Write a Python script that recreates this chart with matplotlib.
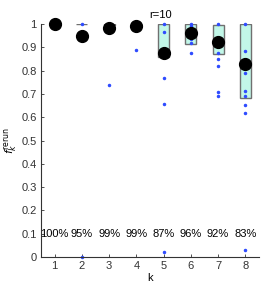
import numpy as np
import matplotlib.pyplot as plt

# ----------------------------
# Data
# ----------------------------
ks = [1, 2, 3, 4, 5, 6, 7, 8]
means = [1.0, 0.95, 0.985, 0.99, 0.874, 0.96, 0.924, 0.83]
q1 = [1.0, 1.0, 0.995, 1.0, 0.857, 0.913, 0.87, 0.681]
q3 = [1.0, 1.0, 1.0, 1.0, 1.0, 1.0, 0.996, 1.0]
pct_labels = ["100%", "95%", "99%", "99%", "87%", "96%", "92%", "83%"]

points = {
    1: [1.0],
    2: [1.0, 0.0],
    3: [1.0, 0.74],
    4: [1.0, 0.89],
    5: [1.0, 0.964, 0.77, 0.657, 0.02],
    6: [1.0, 0.99, 0.934, 0.92, 0.874],
    7: [1.0, 0.874, 0.85, 0.818, 0.71, 0.692],
    8: [1.0, 0.884, 0.788, 0.714, 0.692, 0.651, 0.617, 0.03],
}

# ----------------------------
# Figure
# ----------------------------
plt.rcParams.update({"font.size": 8, "font.family": "Liberation Sans"})

fig = plt.figure(figsize=(2.77, 2.86), dpi=100)
ax = fig.add_axes([0.148, 0.101, 0.787, 0.815])

ax.bar(ks, np.array(q3) - np.array(q1), bottom=q1, width=0.4,
       color="#c2f7e8", edgecolor="#707070", linewidth=1.0, zorder=1)

for k in ks:
    ax.plot([k] * len(points[k]), points[k], ".", color="#2f4cff",
            markersize=3, zorder=2, clip_on=False)

ax.plot(ks, means, "o", color="black", markersize=8.5, zorder=3,
        clip_on=False)

for k, lab in zip(ks, pct_labels):
    ax.text(k, 0.1, lab, ha="center", va="center", fontsize=8)

ax.set_xlim(0.5, 8.5)
ax.set_ylim(0, 1)
ax.set_xticks(ks)
ax.set_yticks(np.arange(0, 1.01, 0.1))
ax.set_yticklabels(["0", "0.1", "0.2", "0.3", "0.4", "0.5",
                    "0.6", "0.7", "0.8", "0.9", "1"])
ax.tick_params(direction="in", length=2, width=0.6, pad=3,
               colors="#333333")

for s in ["top", "right"]:
    ax.spines[s].set_visible(False)
ax.spines["left"].set_linewidth(0.8)
ax.spines["bottom"].set_linewidth(0.8)
ax.spines["left"].set_color("#333333")
ax.spines["bottom"].set_color("#333333")

ax.set_xlabel("k", labelpad=1)
ax.set_ylabel(r"$f_k^{\rm rerun}$", fontsize=8)
ax.yaxis.set_label_coords(-0.1, 0.5)
ax.set_title("r=10", fontsize=8, pad=4, x=0.55)

fig.savefig("out.png", dpi=100)
